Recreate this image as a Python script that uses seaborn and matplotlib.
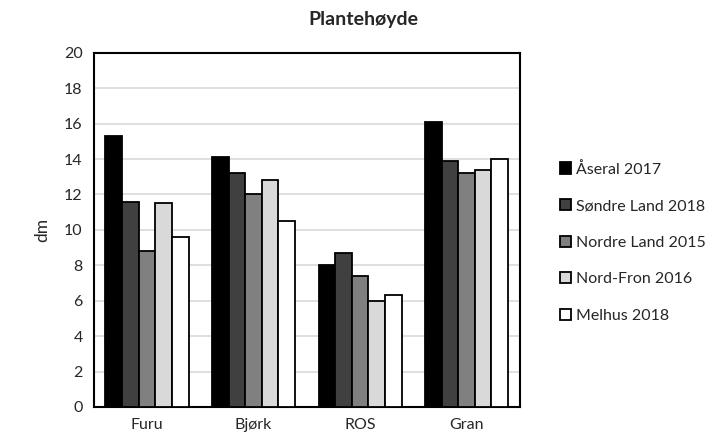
import numpy as np
import pandas as pd
import matplotlib
matplotlib.use("Agg")
import matplotlib.pyplot as plt
import seaborn as sns

sns.set_theme(style="white")
plt.rcParams['font.family'] = ['Lato', 'DejaVu Sans']

# data (dm)
arter = ["Furu", "Bjørk", "ROS", "Gran"]
steder = ["Åseral 2017", "Søndre Land 2018", "Nordre Land 2015", "Nord-Fron 2016", "Melhus 2018"]
aseral = [15.3, 14.1, 8.0, 16.1]
sondre_land = [11.6, 13.2, 8.7, 13.9]
nordre_land = [8.8, 12.0, 7.4, 13.2]
nord_fron = [11.5, 12.8, 6.0, 13.4]
melhus = [9.6, 10.5, 6.3, 14.0]

farger = ["#000000", "#404040", "#808080", "#d9d9d9", "#ffffff"]

rows = []
for sted, verdier in zip(steder, [aseral, sondre_land, nordre_land, nord_fron, melhus]):
    for art, v in zip(arter, verdier):
        rows.append({"art": art, "sted": sted, "dm": v})
df = pd.DataFrame(rows)

fig = plt.figure(figsize=(7.27, 4.45), dpi=100)
ax = fig.add_axes([0.129, 0.0854, 0.586, 0.796])

sns.barplot(data=df, x="art", y="dm", hue="sted", order=arter, hue_order=steder,
            palette=farger, edgecolor="black", linewidth=1.3, width=0.78,
            saturation=1, ax=ax, zorder=3)

ax.set_ylim(0, 20)
ax.set_xlim(-0.5, len(arter) - 0.5)
ax.set_yticks(np.arange(0, 21, 2))
ax.yaxis.grid(True, color="#d9d9d9", linewidth=1.2, zorder=0)
ax.set_axisbelow(True)

ax.set_xticks(np.arange(-0.5, len(arter)), minor=True)
ax.tick_params(axis="x", which="major", length=0, labelsize=11.5, pad=8)
ax.tick_params(axis="x", which="minor", length=5, width=1.5, color="black", direction="out")
ax.tick_params(axis="y", length=5, width=1.5, color="black", direction="out", labelsize=11.5, pad=3)
for s in ax.spines.values():
    s.set_color("black")
    s.set_linewidth(1.5)

ax.set_xlabel("")
ax.set_ylabel("dm", fontsize=12.5, labelpad=10)

ax.legend(loc="center left", bbox_to_anchor=(1.06, 0.465), frameon=False, fontsize=11.5,
          handlelength=0.7, handleheight=0.7, handletextpad=0.3, labelspacing=1.4)

fig.suptitle("Plantehøyde", x=0.5, y=0.975, fontsize=14, fontweight="bold")

fig.savefig("out.png", dpi=100)
